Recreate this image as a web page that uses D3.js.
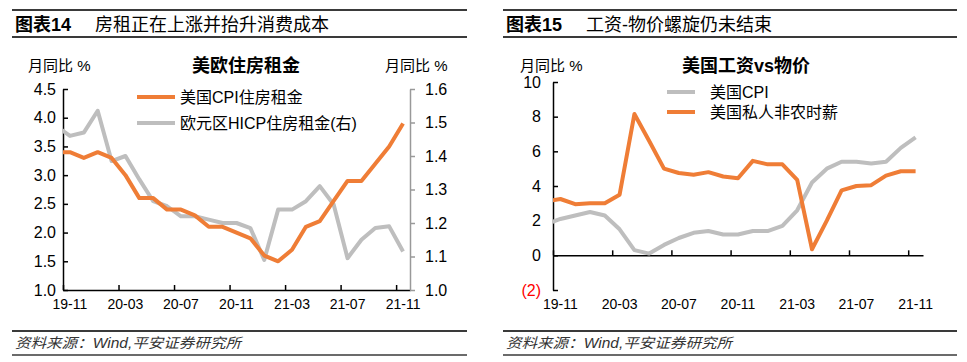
<!DOCTYPE html>
<html>
<head>
<meta charset="utf-8">
<script src="https://cdn.jsdelivr.net/npm/d3@7"></script>
<style>
  body { margin: 0; background: #fff; }
  svg text { font-family: "Liberation Sans", Arial, "Noto Sans CJK SC", sans-serif; fill: #000; }
</style>
</head>
<body>
<div id="chart"></div>
<script>
// months, 19-10 is only half visible (clipped by the plot area)
const months = ["19-10","19-11","19-12","20-01","20-02","20-03","20-04","20-05","20-06","20-07","20-08","20-09","20-10",
                "20-11","20-12","21-01","21-02","21-03","21-04","21-05","21-06","21-07","21-08","21-09","21-10","21-11"];
const tickMonths = ["19-11","20-03","20-07","20-11","21-03","21-07","21-11"];

// chart 14
const usRent = [3.4,3.4,3.3,3.4,3.3,3.0,2.6,2.6,2.4,2.4,2.3,2.1,2.1,2.0,1.9,1.6,1.5,1.7,2.1,2.2,2.55,2.9,2.9,3.2,3.5,3.9];
const euRent = [1.49,1.46,1.47,1.535,1.385,1.4,1.33,1.265,1.25,1.22,1.22,1.21,1.2,1.2,1.185,1.09,1.24,1.24,1.265,1.31,1.255,1.095,1.15,1.185,1.19,1.115];
const leftTicks = [1.0,1.5,2.0,2.5,3.0,3.5,4.0,4.5];
const rightTicks = [1.0,1.1,1.2,1.3,1.4,1.5,1.6];

// chart 15
const usCpi  = [1.8,2.1,2.3,2.5,2.3,1.5,0.3,0.1,0.6,1.0,1.3,1.4,1.2,1.2,1.4,1.4,1.7,2.6,4.2,5.0,5.4,5.4,5.3,5.4,6.2,6.8];
const usWage = [3.1,3.25,2.95,3.0,3.0,3.5,8.15,6.6,5.0,4.75,4.65,4.8,4.55,4.45,5.45,5.25,5.25,4.35,0.35,2.0,3.75,4.0,4.05,4.6,4.85,4.85];
const wageTicks = [-2,0,2,4,6,8,10];

const ORANGE = "#EF7D36", GRAY = "#BEBEBE", RULE = "#3a3a3a";

const svg = d3.select("#chart").append("svg")
    .attr("width", 967)
    .attr("height", 362);

const pos = m => months.indexOf(m) - 1 + 0.5;   // month centre, 19-11 starts at 0

function header(x0, x1, num, title) {
    svg.append("line").attr("x1", x0).attr("x2", x1).attr("y1", 10).attr("y2", 10)
        .attr("stroke", RULE).attr("stroke-width", 2);
    svg.append("line").attr("x1", x0).attr("x2", x1).attr("y1", 37).attr("y2", 37)
        .attr("stroke", RULE).attr("stroke-width", 2);
    svg.append("text").attr("x", x0 + 3).attr("y", 31).attr("font-size", 18)
        .attr("font-weight", "bold").text(num);
    svg.append("text").attr("x", x0 + 83).attr("y", 31).attr("font-size", 18).text(title);
    // footer
    svg.append("line").attr("x1", x0).attr("x2", x1).attr("y1", 331).attr("y2", 331)
        .attr("stroke", RULE).attr("stroke-width", 2);
    svg.append("line").attr("x1", x0).attr("x2", x1).attr("y1", 355).attr("y2", 355)
        .attr("stroke", RULE).attr("stroke-width", 1.5);
    svg.append("text").attr("x", x0 + 3).attr("y", 348).attr("font-size", 14)
        .attr("font-style", "italic").style("fill", "#333")
        .attr("textLength", 226).attr("lengthAdjust", "spacingAndGlyphs")
        .text("资料来源：Wind,平安证券研究所");
}

header(12, 467, "图表14", "房租正在上涨并抬升消费成本");
header(503, 957, "图表15", "工资-物价螺旋仍未结束");

// ---------- chart 14 ----------
const xL = d3.scaleLinear().domain([0, 25]).range([63, 410]);
const yL = d3.scaleLinear().domain([1, 4.5]).range([290, 89]);
const yR = d3.scaleLinear().domain([1, 1.6]).range([290, 89]);

svg.append("clipPath").attr("id", "clipL").append("rect")
    .attr("x", 63).attr("y", 60).attr("width", 347).attr("height", 240);
svg.append("clipPath").attr("id", "clipR").append("rect")
    .attr("x", 553).attr("y", 60).attr("width", 370).attr("height", 240);

const gL = svg.append("g");

gL.append("g").attr("transform", "translate(0,290)")
    .call(d3.axisBottom(xL).tickValues([0,4,8,12,16,20,24]).tickSize(-5).tickSizeOuter(0).tickFormat(""))
    .call(g => g.selectAll("path,line").attr("stroke", "#000").attr("stroke-width", 1.5));

gL.append("g").attr("transform", "translate(63,0)")
    .call(d3.axisLeft(yL).tickValues(leftTicks).tickSize(-5).tickSizeOuter(0).tickPadding(7).tickFormat(d3.format(".1f")))
    .call(g => g.selectAll("path,line").attr("stroke", "#000").attr("stroke-width", 1.5))
    .call(g => g.selectAll("text").attr("font-size", 16).attr("font-family", null).style("fill", "#000"));

gL.append("g").attr("transform", "translate(410,0)")
    .call(d3.axisRight(yR).tickValues(rightTicks).tickSize(5).tickSizeOuter(0).tickPadding(10).tickFormat(d3.format(".1f")))
    .call(g => g.selectAll("path,line").attr("stroke", "#999").attr("stroke-width", 1.5))
    .call(g => g.selectAll("text").attr("font-size", 16).attr("font-family", null).style("fill", "#000"));

gL.selectAll(".xlab").data(tickMonths).enter().append("text")
    .attr("x", d => xL(pos(d))).attr("y", 309).attr("text-anchor", "middle")
    .attr("font-size", 14).text(d => d);

const lineEu = d3.line().x((d, i) => xL(i - 0.5)).y(d => yR(d));
const lineUs = d3.line().x((d, i) => xL(i - 0.5)).y(d => yL(d));

gL.append("path").datum(euRent).attr("d", lineEu).attr("clip-path", "url(#clipL)")
    .attr("fill", "none").attr("stroke", GRAY).attr("stroke-width", 4).attr("stroke-linejoin", "round");
gL.append("path").datum(usRent).attr("d", lineUs).attr("clip-path", "url(#clipL)")
    .attr("fill", "none").attr("stroke", ORANGE).attr("stroke-width", 4).attr("stroke-linejoin", "round");

gL.append("text").attr("x", 246).attr("y", 72).attr("text-anchor", "middle")
    .attr("font-size", 18).attr("font-weight", "bold").text("美欧住房租金");
gL.append("text").attr("x", 28).attr("y", 71).attr("font-size", 15).text("月同比 %");
gL.append("text").attr("x", 385).attr("y", 71).attr("font-size", 15).text("月同比 %");

const legL = [["美国CPI住房租金", ORANGE], ["欧元区HICP住房租金(右)", GRAY]];
legL.forEach((d, i) => {
    const y = 97 + i * 26;
    gL.append("line").attr("x1", 137).attr("x2", 175).attr("y1", y).attr("y2", y)
        .attr("stroke", d[1]).attr("stroke-width", 4);
    gL.append("text").attr("x", 180).attr("y", y + 6).attr("font-size", 16).text(d[0]);
});

// ---------- chart 15 ----------
const xW = d3.scaleLinear().domain([0, 25]).range([553, 923]);
const yW = d3.scaleLinear().domain([-2, 10]).range([290, 82]);

const gR = svg.append("g");

gR.append("g").attr("transform", `translate(0,${yW(0)})`)
    .call(d3.axisBottom(xW).tickValues([0,4,8,12,16,20,24]).tickSize(-5).tickSizeOuter(0).tickFormat(""))
    .call(g => g.selectAll("path,line").attr("stroke", "#000").attr("stroke-width", 1.5));

gR.append("g").attr("transform", "translate(553,0)")
    .call(d3.axisLeft(yW).tickValues(wageTicks).tickSize(-5).tickSizeOuter(0).tickPadding(12)
        .tickFormat(d => d < 0 ? `(${-d})` : d))
    .call(g => g.selectAll("path,line").attr("stroke", "#000").attr("stroke-width", 1.5))
    .call(g => g.selectAll("text").attr("font-size", 16).attr("font-family", null)
        .style("fill", d => d < 0 ? "#FF0000" : "#000"));

gR.selectAll(".xlab").data(tickMonths).enter().append("text")
    .attr("x", d => xW(pos(d))).attr("y", 309).attr("text-anchor", "middle")
    .attr("font-size", 14).text(d => d);

const lineW = d3.line().x((d, i) => xW(i - 0.5)).y(d => yW(d));

gR.append("path").datum(usCpi).attr("d", lineW).attr("clip-path", "url(#clipR)")
    .attr("fill", "none").attr("stroke", GRAY).attr("stroke-width", 4).attr("stroke-linejoin", "round");
gR.append("path").datum(usWage).attr("d", lineW).attr("clip-path", "url(#clipR)")
    .attr("fill", "none").attr("stroke", ORANGE).attr("stroke-width", 4).attr("stroke-linejoin", "round");

gR.append("text").attr("x", 746).attr("y", 72).attr("text-anchor", "middle")
    .attr("font-size", 18).attr("font-weight", "bold").text("美国工资vs物价");
gR.append("text").attr("x", 520).attr("y", 71).attr("font-size", 15).text("月同比 %");

const legR = [["美国CPI", GRAY], ["美国私人非农时薪", ORANGE]];
legR.forEach((d, i) => {
    const y = 92 + i * 20;
    gR.append("line").attr("x1", 667).attr("x2", 695).attr("y1", y).attr("y2", y)
        .attr("stroke", d[1]).attr("stroke-width", 4);
    gR.append("text").attr("x", 710).attr("y", y + 6).attr("font-size", 16).text(d[0]);
});
</script>
</body>
</html>
